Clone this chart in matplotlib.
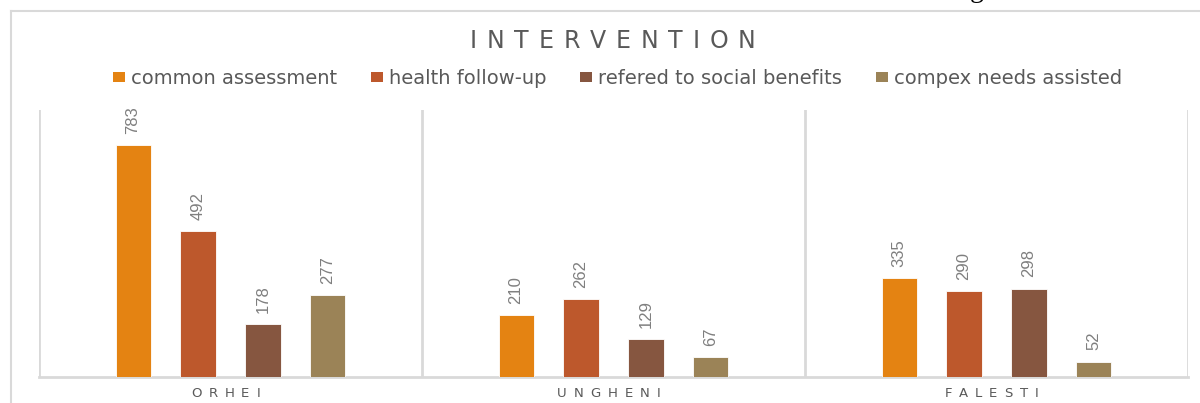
import matplotlib
matplotlib.use("Agg")
import matplotlib.pyplot as plt
import numpy as np
from matplotlib.lines import Line2D
from matplotlib.patches import Patch
from matplotlib import font_manager

# ---------------- data ----------------
title = "INTERVENTION"
categories = ["ORHEI", "UNGHENI", "FALESTI"]
series_names = ["common assessment", "health follow-up",
                "refered to social benefits", "compex needs assisted"]
common_assessment = [783, 210, 335]
health_follow_up = [492, 262, 290]
social_benefits = [178, 129, 298]
complex_needs = [277, 67, 52]
series_values = [common_assessment, health_follow_up, social_benefits, complex_needs]
colors = ["#E48312", "#BD582C", "#865640", "#9B8357"]

W, H = 1200, 403
fig = plt.figure(figsize=(W / 100, H / 100), dpi=100)
fig.patch.set_facecolor("white")

ax = fig.add_axes([39 / W, 1 - 377 / H, (1188 - 39) / W, (377 - 110) / H])
ax.set_xlim(-0.5, len(categories) - 0.5)
ax.set_ylim(0, 900)

grid_c = "#D9D9D9"
text_c = "#595959"
label_c = "#7F7F7F"

names = {f.name for f in font_manager.fontManager.ttflist}
narrow = "Liberation Sans Narrow" if "Liberation Sans Narrow" in names else "Liberation Sans"

bar_w = 0.0914
step = 0.1697
n = len(series_values)
x = np.arange(len(categories))
for i, (vals, col, name) in enumerate(zip(series_values, colors, series_names)):
    off = (i - (n - 1) / 2) * step
    bars = ax.bar(x + off, vals, width=bar_w, color=col, edgecolor="white",
                  linewidth=0.6, label=name, zorder=3)
    for b, v in zip(bars, vals):
        ax.annotate(str(v), (b.get_x() + b.get_width() / 2, v),
                    xytext=(0, 8), textcoords="offset points",
                    rotation=90, ha="center", va="bottom",
                    fontsize=12, color=label_c, family=[narrow, "DejaVu Sans"])

# category boundary gridlines
for bx in np.arange(len(categories) + 1) - 0.5:
    ax.axvline(bx, color=grid_c, lw=2, zorder=1)
for s in ["top", "right", "left"]:
    ax.spines[s].set_visible(False)
ax.spines["bottom"].set_color(grid_c)
ax.spines["bottom"].set_linewidth(2)
ax.set_xticks([])
ax.set_yticks([])

# outer chart border (top and left)
fig.add_artist(Line2D([11 / W, 1.0], [1 - 11 / H, 1 - 11 / H], color=grid_c, lw=1.5))
fig.add_artist(Line2D([11 / W, 11 / W], [1 - 11 / H, 0.0], color=grid_c, lw=1.5))

# fragment of document text above the chart
fig.text(970 / W, 1 + 3 / H, "g", family="Liberation Serif", fontsize=20,
         color="black", ha="left", va="baseline")

renderer = fig.canvas.get_renderer()


def spaced_text(cx_px, base_px, s, gap_px, **kw):
    widths = []
    for ch in s:
        t = fig.text(0, 0, ch, **kw)
        widths.append(t.get_window_extent(renderer).width)
        t.remove()
    total = sum(widths) + gap_px * (len(s) - 1)
    xp = cx_px - total / 2
    for ch, w in zip(s, widths):
        fig.text(xp / W, 1 - base_px / H, ch, ha="left", va="baseline", **kw)
        xp += w + gap_px


spaced_text(612.5, 48, title, 9.8, fontsize=17, color=text_c, family="DejaVu Sans")

fig.canvas.draw()
for i, cat in enumerate(categories):
    cx_disp = ax.transData.transform((i, 0))[0]
    spaced_text(cx_disp - 5, 397, cat, 7.0, fontsize=9.5, color=text_c, family="DejaVu Sans")

handles = [Patch(facecolor=c, edgecolor="none") for c in colors]
fig.legend(handles, series_names, loc="center", ncol=4,
           bbox_to_anchor=(617.5 / W, 1 - 78 / H), frameon=False,
           fontsize=14, labelcolor=text_c, handlelength=0.62, handleheight=0.42,
           handletextpad=0.3, columnspacing=1.75, borderpad=0, borderaxespad=0)

fig.savefig("out.png", dpi=100, facecolor="white")
